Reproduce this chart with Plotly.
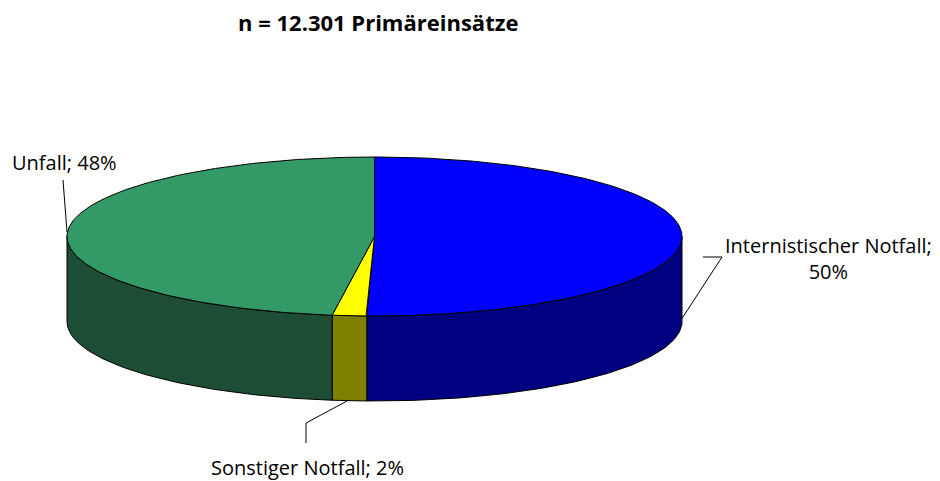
import numpy as np
import plotly.graph_objects as go

# ---- data ----
categories = ["Internistischer Notfall", "Sonstiger Notfall", "Unfall"]
shares = [50.4, 1.8, 47.8]          # percent
label_pcts = ["50%", "2%", "48%"]
title_text = "n = 12.301 Primäreinsätze"

top_colors = ["#0000FF", "#FFFF00", "#339966"]
side_colors = ["#000080", "#808000", "#1D4D35"]

# ---- geometry (pixels, page coordinates) ----
W, H = 940, 481
OFF = 8  # default page body margin
cx, cy, rx, ry, depth = 374.5, 236.5, 307.5, 79.5, 85

def pt(theta_deg, dy=0.0):
    t = np.radians(theta_deg)
    return cx + rx * np.sin(t), cy - ry * np.cos(t) + dy

fig = go.Figure()

total = sum(shares)
bounds = np.concatenate([[0], np.cumsum(shares) / total * 360])

# side walls (front half: 90..270 deg clockwise from top)
for i in range(len(shares)):
    a, b = max(bounds[i], 90), min(bounds[i + 1], 270)
    if b <= a:
        continue
    th = np.linspace(a, b, 80)
    xs_t, ys_t = pt(th)
    xs_b, ys_b = pt(th[::-1], depth)
    xs = np.concatenate([xs_t, xs_b, xs_t[:1]])
    ys = np.concatenate([ys_t, ys_b, ys_t[:1]])
    fig.add_trace(go.Scatter(x=xs, y=ys, mode="lines", fill="toself",
                             fillcolor=side_colors[i],
                             line=dict(color="black", width=1),
                             hoverinfo="skip", showlegend=False))

# top faces
for i in range(len(shares)):
    th = np.linspace(bounds[i], bounds[i + 1], 200)
    xs_a, ys_a = pt(th)
    xs = np.concatenate([[cx], xs_a, [cx]])
    ys = np.concatenate([[cy], ys_a, [cy]])
    fig.add_trace(go.Scatter(x=xs, y=ys, mode="lines", fill="toself",
                             fillcolor=top_colors[i],
                             line=dict(color="black", width=1),
                             hoverinfo="skip", showlegend=False))

# leader lines
leaders = [
    ([703, 722, 681], [257, 257, 320]),
    ([347, 306, 306], [401, 423, 443]),
    ([63, 67], [180, 232]),
]
for lx, ly in leaders:
    fig.add_trace(go.Scatter(x=lx, y=ly, mode="lines",
                             line=dict(color="black", width=1),
                             hoverinfo="skip", showlegend=False))

font_family = "Open Sans"
annos = [
    dict(x=828, y=258, text=f"{categories[0]};<br>{label_pcts[0]}"),
    dict(x=307, y=467, text=f"{categories[1]}; {label_pcts[1]}"),
    dict(x=64, y=162, text=f"{categories[2]}; {label_pcts[2]}"),
]
for a in annos:
    fig.add_annotation(x=a["x"], y=a["y"], xref="x", yref="y", text=a["text"],
                       showarrow=False, align="center",
                       font=dict(family=font_family, size=20, color="black"))

fig.add_annotation(x=378, y=22, xref="x", yref="y", text=f"<b>{title_text}</b>",
                   showarrow=False, font=dict(family=font_family, size=22, color="black"))

fig.update_layout(
    width=W - OFF, height=H - OFF,
    margin=dict(l=0, r=0, t=0, b=0),
    paper_bgcolor="white", plot_bgcolor="white",
    xaxis=dict(range=[OFF, W], visible=False, fixedrange=True),
    yaxis=dict(range=[H, OFF], visible=False, fixedrange=True),
)

fig.write_html("out.html")
